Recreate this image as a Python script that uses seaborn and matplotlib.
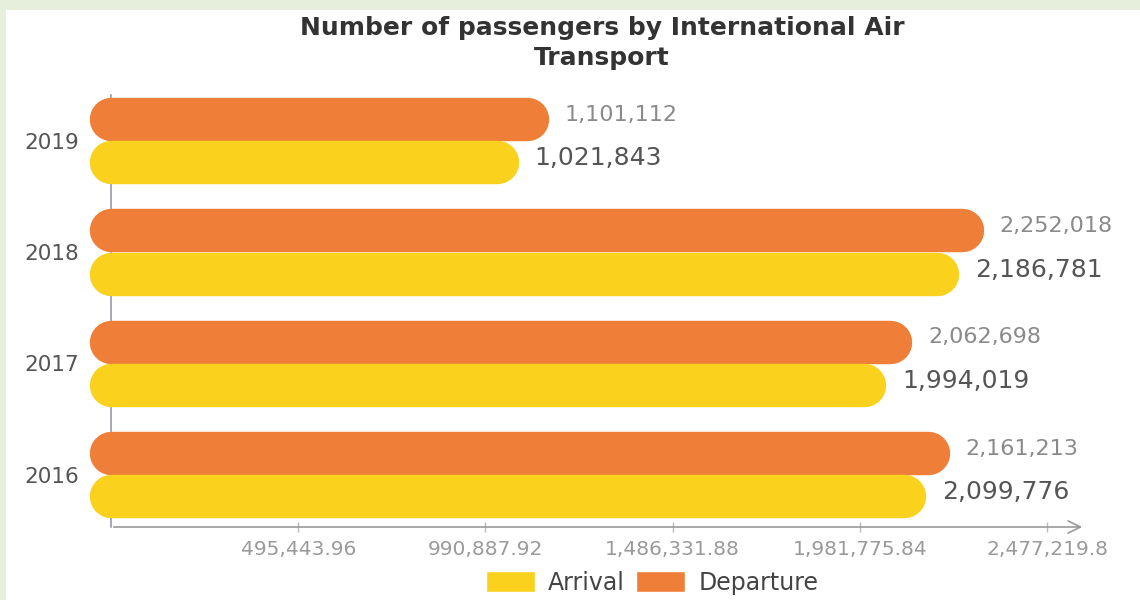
import matplotlib
matplotlib.use("Agg")
import matplotlib.pyplot as plt
from matplotlib.patches import Patch, Rectangle
import seaborn as sns
import pandas as pd

# ---- data -------------------------------------------------------------
years = ["2019", "2018", "2017", "2016"]
arrival = [1021843, 2186781, 1994019, 2099776]
departure = [1101112, 2252018, 2062698, 2161213]
series_names = ["Departure", "Arrival"]
x_ticks = [495443.96, 990887.92, 1486331.88, 1981775.84, 2477219.8]
x_tick_labels = ["495,443.96", "990,887.92", "1,486,331.88", "1,981,775.84", "2,477,219.8"]
title = "Number of passengers by International Air\nTransport"

colors = {"Arrival": "#FAD21E", "Departure": "#EF7E38"}

df = pd.DataFrame({
    "year": years * 2,
    "series": ["Departure"] * len(years) + ["Arrival"] * len(years),
    "value": departure + arrival,
})

sns.set_theme(style="white")
plt.rcParams["font.family"] = ["DejaVu Sans"]

W, H = 1140, 600
fig = plt.figure(figsize=(W / 100, H / 100), dpi=100)
fig.patch.set_facecolor("#e6eedc")
# white card on the pale green backdrop
fig.patches.append(Rectangle((6 / W, 0), 1, 1 - 10 / H, transform=fig.transFigure,
                             facecolor="white", edgecolor="none", zorder=-5))

ax = fig.add_axes([111 / W, 73 / H, 974 / W, 432 / H])
ax.set_zorder(2)
ax.set_facecolor("none")

sns.barplot(data=df, y="year", x="value", hue="series", order=years,
            hue_order=series_names, palette=colors, orient="h", width=0.78,
            ax=ax, legend=False, saturation=1)

xmax = 2577790
ax.set_xlim(0, xmax)
ax.set_ylim(3.47, -0.41)

# replace the flat bars with round-capped strokes of the same geometry
fig.canvas.draw()
for patch in list(ax.patches):
    x0, y0 = patch.get_x(), patch.get_y()
    w, h = patch.get_width(), patch.get_height()
    yc = y0 + h / 2
    px_h = abs(ax.transData.transform((0, y0))[1] - ax.transData.transform((0, y0 + h))[1])
    lw = px_h * 72 / fig.dpi
    ax.plot([x0, x0 + w], [yc, yc], color=patch.get_facecolor(), lw=lw,
            solid_capstyle="round", zorder=3, clip_on=False)
    patch.set_visible(False)

# value labels next to each bar
for i, yr in enumerate(years):
    dep_p = ax.patches[i]
    arr_p = ax.patches[i + len(years)]
    for p, val, col, fs in ((dep_p, departure[i], "#8a8a8a", 16),
                            (arr_p, arrival[i], "#555555", 18)):
        yc = p.get_y() + p.get_height() / 2
        ax.annotate(f"{val:,}", xy=(val, yc), xytext=(27, 3), textcoords="offset points",
                    ha="left", va="center", fontsize=fs, color=col,
                    annotation_clip=False, zorder=4)

# axes styling
sns.despine(ax=ax, top=True, right=True, bottom=True)
ax.spines["left"].set_color("#9a9aa8")
ax.spines["left"].set_linewidth(1.2)
ax.spines["left"].set_zorder(1)
ax.annotate("", xy=(1.0, 0), xytext=(0, 0), xycoords="axes fraction",
            arrowprops=dict(arrowstyle="->", color="#9a9a9a", lw=1.2,
                            mutation_scale=22), zorder=1)

ax.set_xticks(x_ticks)
ax.set_xticklabels(x_tick_labels)
ax.tick_params(axis="x", direction="inout", length=7, width=1, color="#bbbbbb",
               labelsize=14.5, labelcolor="#9a9a9a", pad=6, bottom=True)
ax.tick_params(axis="y", length=0, labelsize=15.5, labelcolor="#555555", pad=23)
ax.set_xlabel("")
ax.set_ylabel("")
ax.grid(False)

fig.text(602 / W, 1 - 43 / H, title, ha="center", va="center", fontsize=18,
         fontweight="bold", color="#333333", linespacing=1.3)

handles = [Patch(facecolor=colors["Arrival"], label="Arrival"),
           Patch(facecolor=colors["Departure"], label="Departure")]
fig.legend(handles=handles, loc="center", bbox_to_anchor=(652 / W, 1 - 583 / H), ncol=2,
           frameon=False, fontsize=17, handlelength=2.1, handleheight=1.0,
           handletextpad=0.55, columnspacing=0.45, labelcolor="#444444")

fig.savefig("out.png", dpi=100, facecolor=fig.get_facecolor())
